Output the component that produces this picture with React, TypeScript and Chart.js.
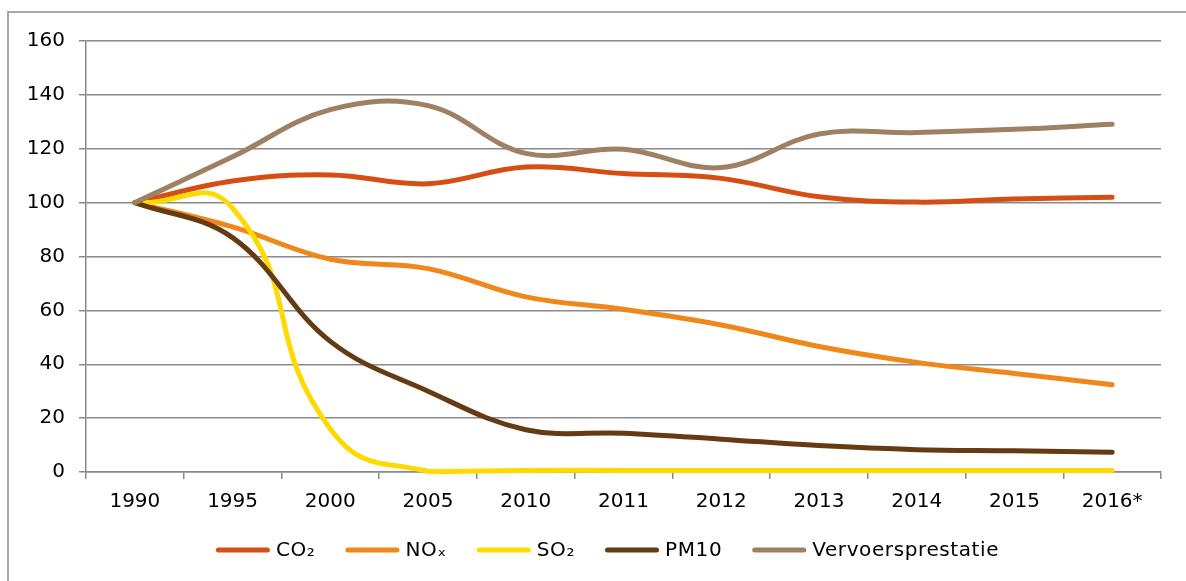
import React, { useEffect, useRef } from "react";
import { Chart, registerables } from "chart.js";

Chart.register(...registerables);

const categories = ["1990", "1995", "2000", "2005", "2010", "2011", "2012", "2013", "2014", "2015", "2016*"];
const co2 = [100, 108, 110.3, 107, 113.2, 110.8, 109, 102.2, 100.2, 101.3, 102];
const nox = [100, 91, 79, 75.5, 65, 60.4, 54.6, 46.6, 40.7, 36.6, 32.4];
const so2 = [100, 98, 16, 0.3, 0.6, 0.6, 0.6, 0.6, 0.6, 0.6, 0.6];
const pm10 = [100, 87, 48.5, 30, 15.7, 14.4, 12.2, 9.8, 8.3, 7.9, 7.3];
const vervoer = [100, 117, 134.5, 136, 118.3, 119.8, 113, 125.5, 126, 127.2, 129.1];
const seriesLabels = ["CO₂", "NOₓ", "SO₂", "PM10", "Vervoersprestatie"];
const seriesColors = ["#D64E14", "#F0871A", "#FFDA00", "#643B13", "#9E8062"];
const yTicks = { min: 0, max: 160, step: 20 };

const FONT = "'DejaVu Sans', Verdana, sans-serif";
const GRID = "#8a8a8a";

const legendPlugin = {
  id: "customLegend",
  afterDraw(chart: any) {
    const ctx = chart.ctx as any;
    ctx.save();
    ctx.font = `20px ${FONT}`;
    if ("letterSpacing" in ctx) ctx.letterSpacing = "0.6px";
    const lineLen = 54;
    const gapText = 6;
    const gapItem = 30;
    const items = chart.data.datasets.map((ds: any) => ({
      text: ds.label as string,
      color: ds.borderColor as string,
      w: ctx.measureText(ds.label).width,
    }));
    const total =
      items.reduce((s: number, it: any) => s + lineLen + gapText + it.w, 0) + gapItem * (items.length - 1);
    let x = 607.5 - total / 2;
    const y = 550;
    ctx.textBaseline = "middle";
    ctx.textAlign = "left";
    for (const it of items) {
      ctx.strokeStyle = it.color;
      ctx.lineWidth = 5;
      ctx.lineCap = "round";
      ctx.beginPath();
      ctx.moveTo(x + 2.5, y);
      ctx.lineTo(x + lineLen - 2.5, y);
      ctx.stroke();
      x += lineLen + gapText;
      ctx.fillStyle = "#000";
      ctx.fillText(it.text, x, y + 1);
      x += it.w + gapItem;
    }
    ctx.restore();
  },
};

export default function App() {
  const ref = useRef<HTMLCanvasElement | null>(null);

  useEffect(() => {
    if (!ref.current) return;
    const data = [co2, nox, so2, pm10, vervoer];
    const chart = new Chart(ref.current, {
      type: "line",
      data: {
        labels: categories,
        datasets: data.map((d, i) => ({
          label: seriesLabels[i],
          data: d,
          borderColor: seriesColors[i],
          backgroundColor: seriesColors[i],
          borderWidth: 5,
          pointRadius: 0,
          pointHoverRadius: 0,
          tension: i === 2 ? 0.5 : 0.38,
          borderCapStyle: "round",
          borderJoinStyle: "round",
          fill: false,
          clip: false,
          order: 4 - i,
        })),
      },
      options: {
        animation: false,
        responsive: false,
        maintainAspectRatio: false,
        layout: { padding: { left: 0, top: 41, right: 25, bottom: 0 } },
        plugins: {
          legend: { display: false },
          tooltip: { enabled: false },
          title: { display: false },
        },
        scales: {
          x: {
            type: "category",
            offset: true,
            grid: {
              display: true,
              drawOnChartArea: false,
              drawTicks: true,
              tickLength: 7,
              color: GRID,
              lineWidth: 1.5,
              offset: true,
            },
            border: { display: true, color: GRID, width: 1.5 },
            ticks: {
              font: { family: FONT, size: 20 },
              color: "#000",
              padding: 11,
              maxRotation: 0,
              autoSkip: false,
            },
            afterFit: (s: any) => {
              s.height = 581 - 472;
            },
          },
          y: {
            min: yTicks.min,
            max: yTicks.max,
            ticks: {
              stepSize: yTicks.step,
              font: { family: FONT, size: 20 },
              color: "#000",
              padding: 14,
            },
            grid: { color: GRID, lineWidth: 1.5, tickLength: 7 },
            border: { display: true, color: GRID, width: 1.5 },
            afterFit: (s: any) => {
              s.width = 86;
            },
          },
        },
      },
      plugins: [legendPlugin],
    });
    return () => chart.destroy();
  }, []);

  return (
    <div style={{ position: "absolute", left: 0, top: 0, width: 1186, height: 581, overflow: "hidden", background: "#fff" }}>
      <div
        style={{
          position: "absolute",
          left: 7,
          top: 11,
          width: 1300,
          height: 700,
          borderTop: "2px solid #a8a8a8",
          borderLeft: "2px solid #a8a8a8",
        }}
      />
      <canvas ref={ref} width={1186} height={581} style={{ position: "absolute", left: 0, top: 0, width: 1186, height: 581 }} />
    </div>
  );
}
